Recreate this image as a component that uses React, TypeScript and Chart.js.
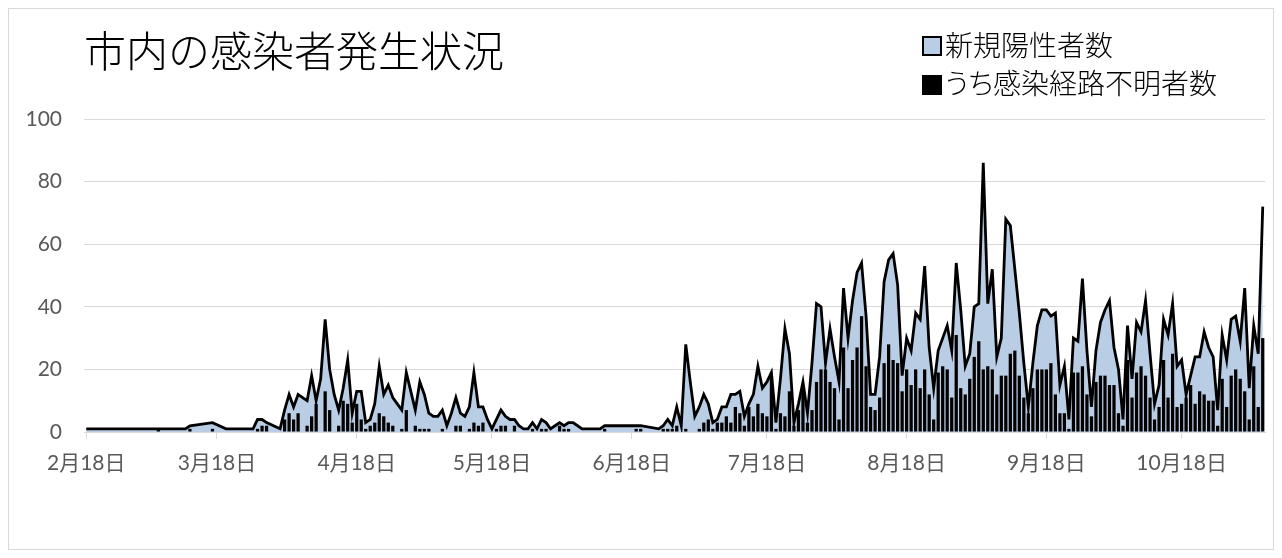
import React, { useEffect, useRef } from "react";
import { Chart, registerables } from "chart.js";

Chart.register(...registerables);

// First day of the series (2020-02-18), one category per day
const START_YEAR = 2020;
const START_MONTH = 2;
const START_DAY = 18;

// 新規陽性者数 (daily new positives); null = no entry that day
const TOTAL: (number | null)[] = [
  1, 1, 1, 1, 1, 1, 1, 1, 1, 1,
  1, 1, 1, 1, 1, 1, 1, 1, 1, 1,
  1, 1, 1, 2, null, null, null, null, 3, null,
  null, 1, 1, 1, 1, 1, 1, 1, 4, 4,
  3, null, null, 1, 7, 12, 8, 12, 11, 10,
  18, 10, 17, 36, 20, 12, 7, 14, 23, 6,
  13, 13, 3, 4, 9, 21, 12, 15, 11, 9,
  7, 19, 13, 7, 16, 12, 6, 5, 5, 7,
  2, 6, 11, 6, 5, 8, 19, 8, 8, 4,
  1, 4, 7, 5, 4, 4, 2, 1, 1, 3,
  1, 4, 3, 1, 2, 3, 2, 3, 3, 2,
  1, 1, 1, 1, 1, 2, 2, 2, 2, 2,
  2, 2, 2, 2, null, null, null, 1, 2, 4,
  2, 8, 2, 28, 16, 5, 8, 12, 9, 3,
  4, 8, 8, 12, 12, 13, 5, 9, 12, 21,
  14, 16, 19, 3, 17, 33, 25, 3, 9, 16,
  6, 22, 41, 40, 22, 33, 24, 16, 46, 30,
  42, 51, 54, 37, 12, 12, 24, 48, 55, 57,
  47, 18, 30, 26, 38, 36, 53, 27, 14, 26,
  30, 34, 26, 54, 39, 21, 25, 40, 41, 86,
  41, 52, 24, 30, 68, 66, 52, 38, 22, 8,
  22, 34, 39, 39, 37, 38, 15, 21, 4, 30,
  29, 49, 26, 8, 26, 35, 39, 42, 27, 20,
  4, 34, 17, 35, 32, 42, 25, 9, 15, 36,
  31, 41, 21, 23, 12, 18, 24, 24, 32, 27,
  24, 7, 31, 23, 36, 37, 29, 46, 14, 34,
  25, 72,
];

// うち感染経路不明者数 (of which, infection route unknown)
const UNTRACED: number[] = [
  0, 0, 0, 0, 0, 0, 0, 0, 0, 0,
  0, 0, 0, 0, 0, 0, 1, 0, 0, 0,
  0, 0, 0, 1, 0, 0, 0, 0, 1, 0,
  0, 0, 0, 0, 0, 0, 0, 0, 1, 2,
  2, 0, 0, 0, 4, 6, 4, 6, 0, 2,
  5, 9, 0, 13, 7, 0, 2, 10, 9, 3,
  9, 4, 1, 2, 3, 6, 5, 3, 2, 0,
  1, 7, 0, 2, 1, 1, 1, 0, 0, 1,
  0, 0, 2, 2, 0, 1, 3, 2, 3, 0,
  0, 1, 2, 2, 0, 2, 0, 0, 0, 1,
  0, 1, 1, 0, 0, 2, 1, 1, 0, 0,
  0, 0, 0, 0, 0, 1, 0, 0, 0, 0,
  0, 0, 1, 1, 0, 0, 0, 0, 1, 1,
  1, 2, 0, 1, 0, 0, 1, 3, 4, 1,
  3, 3, 5, 3, 8, 6, 2, 8, 5, 9,
  6, 5, 18, 1, 6, 5, 13, 2, 7, 15,
  3, 7, 16, 20, 20, 16, 14, 4, 27, 14,
  23, 27, 37, 21, 8, 7, 11, 22, 28, 23,
  22, 13, 20, 15, 20, 14, 20, 12, 4, 19,
  21, 20, 11, 31, 14, 12, 17, 24, 29, 20,
  21, 20, 12, 18, 18, 25, 26, 18, 11, 6,
  14, 20, 20, 20, 22, 12, 6, 6, 1, 19,
  19, 21, 12, 5, 16, 18, 18, 15, 15, 6,
  2, 23, 11, 19, 21, 18, 11, 4, 8, 23,
  11, 25, 8, 9, 11, 15, 9, 13, 12, 10,
  10, 2, 17, 8, 18, 20, 17, 13, 4, 21,
  8, 30,
];

const TICK_LABELS = [
  "2月18日", "3月18日", "4月18日", "5月18日", "6月18日",
  "7月18日", "8月18日", "9月18日", "10月18日",
];

const Y_MIN = 0;
const Y_MAX = 100;
const Y_STEP = 20;

const TITLE = "市内の感染者発生状況";
const SERIES_TOTAL = "新規陽性者数";
const SERIES_UNTRACED = "うち感染経路不明者数";

const CATEGORIES = TOTAL.map((_, i) => {
  const d = new Date(START_YEAR, START_MONTH - 1, START_DAY + i);
  return `${d.getMonth() + 1}月${d.getDate()}日`;
});

const AXIS_FONT = "Lato, 'Noto Sans CJK JP', sans-serif";
const CJK_FONT = "'Noto Sans CJK JP', sans-serif";
const FILL_BLUE = "#b9cde5";

export default function App() {
  const ref = useRef<HTMLCanvasElement | null>(null);

  useEffect(() => {
    if (!ref.current) return;
    const chart = new Chart(ref.current, {
      type: "bar",
      data: {
        labels: CATEGORIES,
        datasets: [
          {
            type: "line",
            label: SERIES_TOTAL,
            data: TOTAL,
            borderColor: "#000000",
            borderWidth: 2.8,
            backgroundColor: FILL_BLUE,
            fill: "origin",
            pointRadius: 0,
            pointHoverRadius: 0,
            tension: 0,
            spanGaps: true,
            order: 2,
          } as any,
          {
            type: "bar",
            label: SERIES_UNTRACED,
            data: UNTRACED,
            backgroundColor: "#000000",
            borderWidth: 0,
            barPercentage: 0.72,
            categoryPercentage: 1,
            order: 1,
          } as any,
        ],
      },
      options: {
        responsive: false,
        animation: false,
        layout: { padding: { left: 0, right: 8, top: 110, bottom: 0 } },
        plugins: {
          legend: { display: false },
          title: { display: false },
          tooltip: { enabled: false },
          filler: { drawTime: "beforeDatasetsDraw" } as any,
        },
        scales: {
          x: {
            type: "category",
            offset: true,
            grid: {
              display: true,
              offset: false,
              drawOnChartArea: false,
              drawTicks: true,
              tickLength: 7,
              color: "#d9d9d9",
              tickColor: "#d9d9d9",
            },
            border: { display: true, color: "#d9d9d9", width: 1 },
            ticks: {
              autoSkip: false,
              maxRotation: 0,
              minRotation: 0,
              padding: 12,
              color: "#595959",
              font: { family: AXIS_FONT, size: 21 },
            },
            afterBuildTicks: (s: any) => {
              s.ticks = s.ticks.filter((t: any) => TICK_LABELS.includes(CATEGORIES[t.value]));
            },
            afterFit: (s: any) => {
              s.height = 117;
            },
          } as any,
          y: {
            min: Y_MIN,
            max: Y_MAX,
            ticks: {
              stepSize: Y_STEP,
              padding: 22,
              color: "#595959",
              font: { family: AXIS_FONT, size: 21 },
            },
            grid: { color: "#d9d9d9", drawTicks: false, lineWidth: 1 },
            border: { display: false },
            afterFit: (s: any) => {
              s.width = 75;
            },
          } as any,
        },
      },
    });
    return () => chart.destroy();
  }, []);

  return (
    <div
      style={{
        position: "relative",
        width: 1266,
        height: 542,
        boxSizing: "border-box",
        border: "1px solid #d9d9d9",
        background: "#ffffff",
      }}
    >
      <canvas
        ref={ref}
        width={1264}
        height={540}
        style={{ position: "absolute", left: 0, top: 0, width: 1264, height: 540 }}
      />
      <div
        style={{
          position: "absolute",
          left: 75,
          top: 19,
          fontFamily: CJK_FONT,
          fontSize: 42,
          lineHeight: "42px",
          fontWeight: 300,
          color: "#000",
          whiteSpace: "nowrap",
        }}
      >
        {TITLE}
      </div>
      <div
        style={{
          position: "absolute",
          left: 913,
          top: 27,
          width: 20,
          height: 20,
          boxSizing: "border-box",
          border: "2px solid #000",
          background: FILL_BLUE,
        }}
      />
      <div
        style={{
          position: "absolute",
          left: 936,
          top: 21,
          fontFamily: CJK_FONT,
          fontSize: 28,
          lineHeight: "28px",
          fontWeight: 300,
          color: "#000",
          whiteSpace: "nowrap",
        }}
      >
        {SERIES_TOTAL}
      </div>
      <div
        style={{
          position: "absolute",
          left: 913,
          top: 66,
          width: 20,
          height: 20,
          background: "#000",
        }}
      />
      <div
        style={{
          position: "absolute",
          left: 936,
          top: 59,
          fontFamily: CJK_FONT,
          fontSize: 28,
          lineHeight: "28px",
          fontWeight: 300,
          color: "#000",
          whiteSpace: "nowrap",
          fontFeatureSettings: '"palt"',
        }}
      >
        {SERIES_UNTRACED}
      </div>
    </div>
  );
}
